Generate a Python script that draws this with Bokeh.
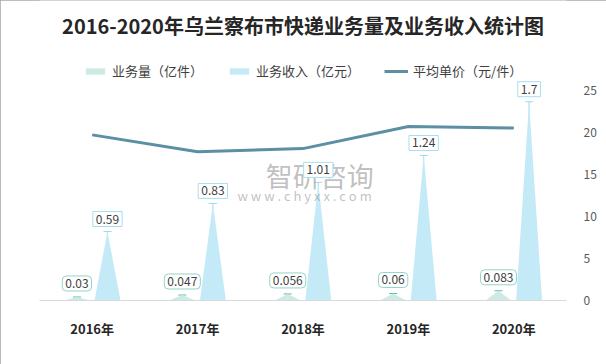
from bokeh.plotting import figure
from bokeh.models import (ColumnDataSource, Range1d, LinearAxis, FixedTicker, Legend, LegendItem,
                          Label, Whisker, TeeHead)
from bokeh.embed import file_html
from bokeh.resources import INLINE

years = ["2016年", "2017年", "2018年", "2019年", "2020年"]
volume = [0.03, 0.047, 0.056, 0.06, 0.083]      # 业务量（亿件）
revenue = [0.59, 0.83, 1.01, 1.24, 1.7]         # 业务收入（亿元）
price = [19.67, 17.66, 18.04, 20.67, 20.48]     # 平均单价（元/件）
price_ticks = [0, 5, 10, 15, 20, 25]

FONT = "Noto Sans CJK SC"
OFF = 0.145
HW = 0.123

# layout: the frame spans the whole upper part; the value axes cover AXIS_PX of FRAME_H
FRAME_H = 300.0
AXIS_PX = 210.5
LEFT_MAX = 1.8
RIGHT_MAX = 25.0

xc = [i + 0.5 for i in range(len(years))]
xv = [x - OFF for x in xc]
xr = [x + OFF for x in xc]

def tri(xs_center, vals):
    return dict(xs=[[x - HW, x, x + HW] for x in xs_center],
                ys=[[0, v, 0] for v in vals],
                x=xs_center, y=vals, zero=[0] * len(vals))

src_v = ColumnDataSource(tri(xv, volume))
src_r = ColumnDataSource(tri(xr, revenue))
src_p = ColumnDataSource(dict(x=xc, y=price))

p = figure(width=606, height=364, x_range=Range1d(0, 5),
           y_range=Range1d(0, LEFT_MAX * FRAME_H / AXIS_PX),
           output_backend="svg", toolbar_location=None, title_location=None,
           y_axis_location=None, min_border_left=39, min_border_right=40,
           min_border_top=0, min_border_bottom=64)
p.extra_y_ranges = {"right": Range1d(0, RIGHT_MAX * FRAME_H / AXIS_PX)}
p.outline_line_color = None
p.xgrid.visible = False
p.ygrid.visible = False
p.styles = {"outline": "1px solid #a6a6a6", "outline-offset": "-1px"}

# title
p.add_layout(Label(x=263.5, y=275, x_units="screen", y_units="screen",
                   text="2016-2020年乌兰察布市快递业务量及业务收入统计图",
                   text_align="center", text_baseline="middle", text_font=FONT,
                   text_font_size="20px", text_font_style="bold", text_color="#262626"))

# watermark
p.add_layout(Label(x=2.66, y=1.065, text="智研咨询", text_align="center", text_baseline="middle",
                   text_font=FONT, text_font_size="27px", text_color="#8c8c8c", text_alpha=0.55))
p.add_layout(Label(x=2.515, y=0.9, text="w w w . c h y x x . c o m", text_align="center",
                   text_baseline="middle", text_font=FONT, text_font_size="13px",
                   text_color="#8c8c8c", text_alpha=0.55))

vol_r = p.patches("xs", "ys", source=src_v, fill_color="#cdeae5", line_color=None)
rev_r = p.patches("xs", "ys", source=src_r, fill_color="#c4eaf8", line_color=None)

p.add_layout(Whisker(source=src_v, base="x", upper="y", lower="zero", dimension="height",
                     line_color="#5fb8aa", line_width=1,
                     upper_head=TeeHead(size=8, line_color="#5fb8aa", line_width=1), lower_head=None))
p.add_layout(Whisker(source=src_r, base="x", upper="y", lower="zero", dimension="height",
                     line_color="#9fd9ec", line_width=1,
                     upper_head=TeeHead(size=8, line_color="#9fd9ec", line_width=1), lower_head=None))

line_r = p.line("x", "y", source=src_p, y_range_name="right", line_color="#5b8fa3", line_width=3)

for x, v in zip(xv, volume):
    p.add_layout(Label(x=x, y=v, text=str(v), y_offset=6, text_align="center",
                       text_baseline="bottom", text_font=FONT, text_font_size="12px",
                       text_color="#404040", background_fill_color="white",
                       border_line_color="#92d4c9", border_line_width=1,
                       padding=3, border_radius=4))
for x, v in zip(xr, revenue):
    p.add_layout(Label(x=x, y=v, text=str(v), y_offset=5, text_align="center",
                       text_baseline="bottom", text_font=FONT, text_font_size="12px",
                       text_color="#404040", background_fill_color="white",
                       border_line_color="#a9def0", border_line_width=1, padding=3))

# x axis
xa = p.xaxis[0]
xa.ticker = FixedTicker(ticks=xc)
xa.major_label_overrides = {x: y for x, y in zip(xc, years)}
xa.major_tick_line_color = None
xa.minor_tick_line_color = None
xa.axis_line_color = "#d9d9d9"
xa.major_label_standoff = 12
xa.major_label_text_font = FONT
xa.major_label_text_font_size = "13px"
xa.major_label_text_font_style = "bold"
xa.major_label_text_color = "#262626"

ra = LinearAxis(y_range_name="right", ticker=FixedTicker(ticks=price_ticks))
ra.axis_line_color = None
ra.major_tick_line_color = None
ra.minor_tick_line_color = None
ra.major_label_standoff = 11
ra.major_label_text_font = FONT
ra.major_label_text_font_size = "12px"
ra.major_label_text_color = "#595959"
p.add_layout(ra, "right")

legend = Legend(items=[LegendItem(label="业务量（亿件）", renderers=[vol_r]),
                       LegendItem(label="业务收入（亿元）", renderers=[rev_r]),
                       LegendItem(label="平均单价（元/件）", renderers=[line_r])],
                orientation="horizontal", location=(44, 220), glyph_width=24, glyph_height=8,
                label_standoff=5, spacing=24, padding=0, margin=0,
                border_line_alpha=0, background_fill_alpha=0,
                label_text_font=FONT, label_text_font_size="13px", label_text_color="#404040")
p.add_layout(legend, "center")

open("out.html", "w").write(file_html(p, INLINE))
